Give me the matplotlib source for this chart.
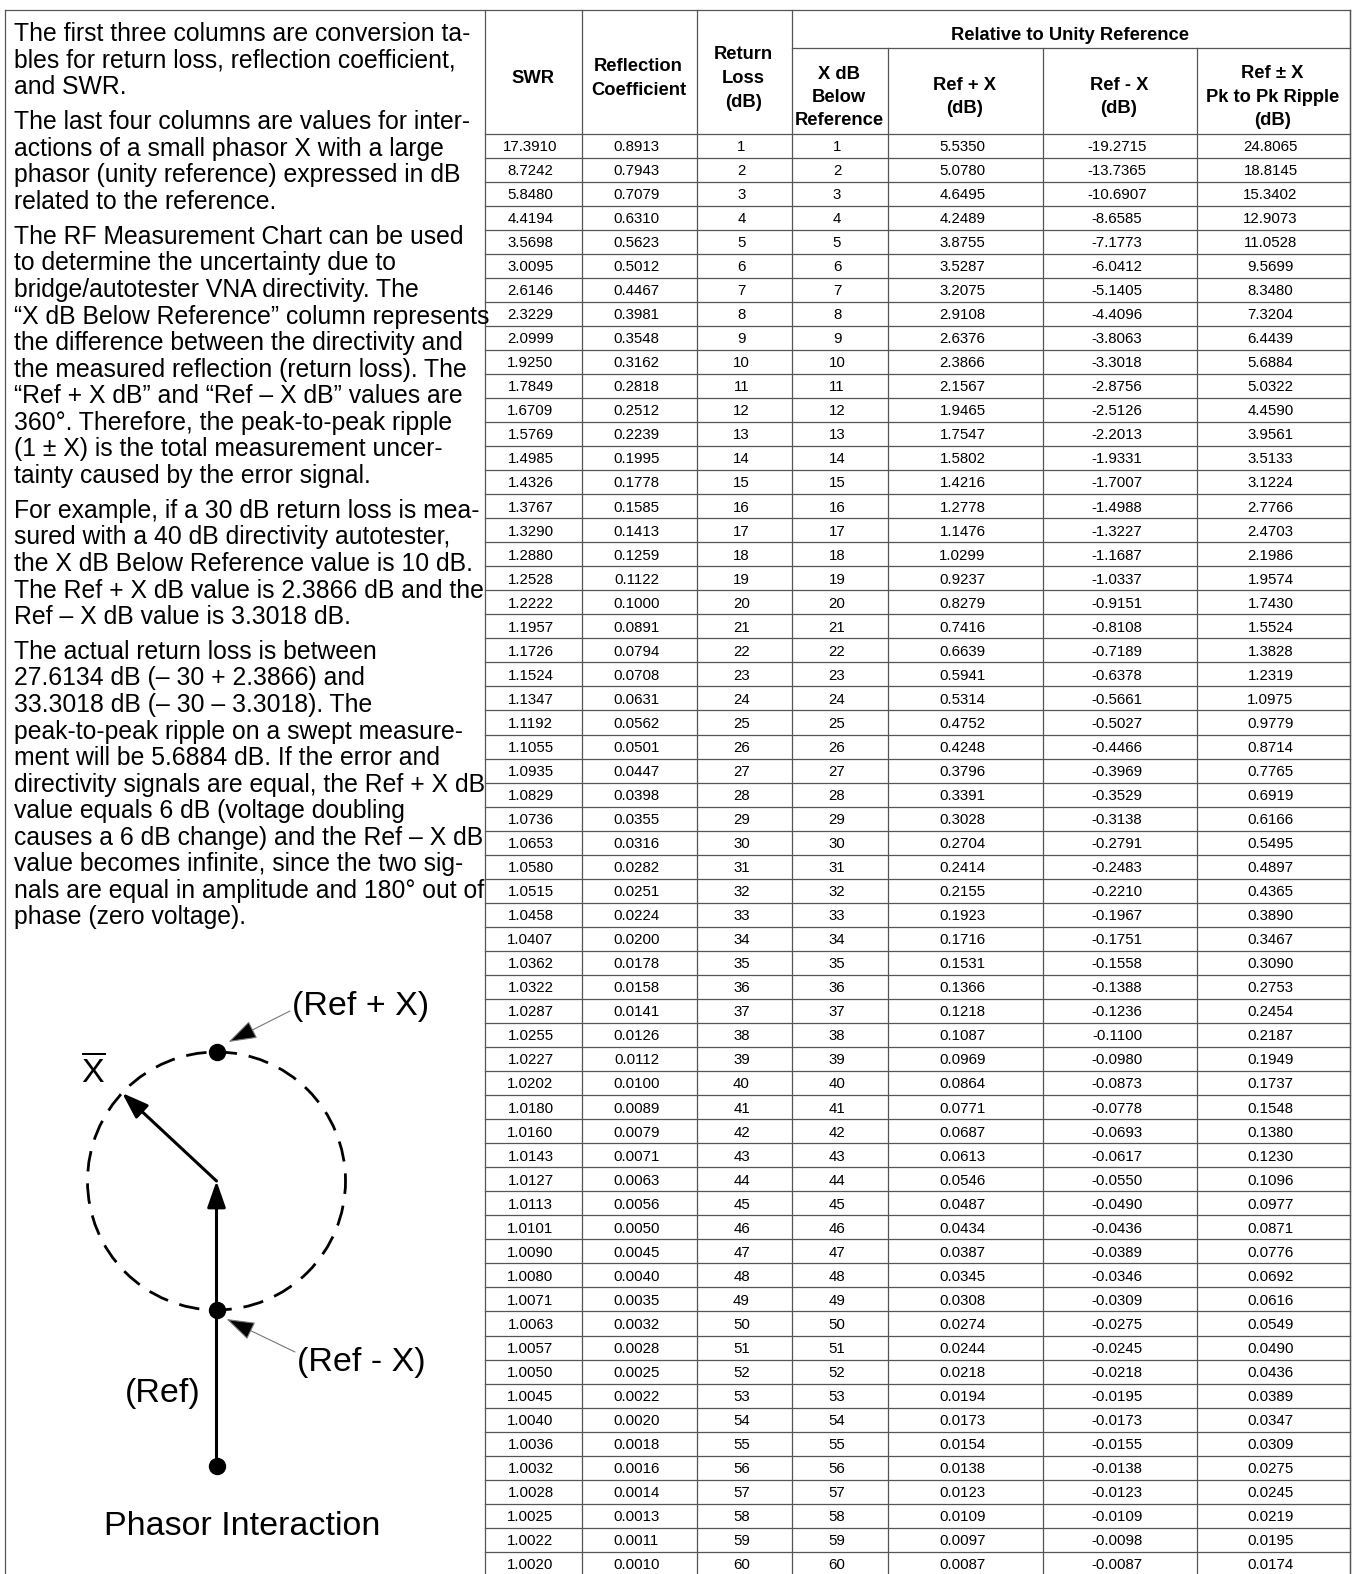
import numpy as np
import matplotlib
matplotlib.use("Agg")
import matplotlib.pyplot as plt
from matplotlib.patches import Circle

plt.rcParams['font.family'] = ['Liberation Sans', 'DejaVu Sans']
plt.rcParams['mathtext.fontset'] = 'custom'
plt.rcParams['mathtext.rm'] = 'Liberation Sans'

# ---- table data ----
swr = [17.3910, 8.7242, 5.8480, 4.4194, 3.5698, 3.0095, 2.6146, 2.3229, 2.0999, 1.9250,
       1.7849, 1.6709, 1.5769, 1.4985, 1.4326, 1.3767, 1.3290, 1.2880, 1.2528, 1.2222,
       1.1957, 1.1726, 1.1524, 1.1347, 1.1192, 1.1055, 1.0935, 1.0829, 1.0736, 1.0653,
       1.0580, 1.0515, 1.0458, 1.0407, 1.0362, 1.0322, 1.0287, 1.0255, 1.0227, 1.0202,
       1.0180, 1.0160, 1.0143, 1.0127, 1.0113, 1.0101, 1.0090, 1.0080, 1.0071, 1.0063,
       1.0057, 1.0050, 1.0045, 1.0040, 1.0036, 1.0032, 1.0028, 1.0025, 1.0022, 1.0020]
refl_coef = [0.8913, 0.7943, 0.7079, 0.6310, 0.5623, 0.5012, 0.4467, 0.3981, 0.3548, 0.3162,
             0.2818, 0.2512, 0.2239, 0.1995, 0.1778, 0.1585, 0.1413, 0.1259, 0.1122, 0.1000,
             0.0891, 0.0794, 0.0708, 0.0631, 0.0562, 0.0501, 0.0447, 0.0398, 0.0355, 0.0316,
             0.0282, 0.0251, 0.0224, 0.0200, 0.0178, 0.0158, 0.0141, 0.0126, 0.0112, 0.0100,
             0.0089, 0.0079, 0.0071, 0.0063, 0.0056, 0.0050, 0.0045, 0.0040, 0.0035, 0.0032,
             0.0028, 0.0025, 0.0022, 0.0020, 0.0018, 0.0016, 0.0014, 0.0013, 0.0011, 0.0010]
return_loss = [1, 2, 3, 4, 5, 6, 7, 8, 9, 10, 11, 12, 13, 14, 15, 16, 17, 18, 19, 20,
               21, 22, 23, 24, 25, 26, 27, 28, 29, 30, 31, 32, 33, 34, 35, 36, 37, 38, 39, 40,
               41, 42, 43, 44, 45, 46, 47, 48, 49, 50, 51, 52, 53, 54, 55, 56, 57, 58, 59, 60]
x_below = [1, 2, 3, 4, 5, 6, 7, 8, 9, 10, 11, 12, 13, 14, 15, 16, 17, 18, 19, 20,
           21, 22, 23, 24, 25, 26, 27, 28, 29, 30, 31, 32, 33, 34, 35, 36, 37, 38, 39, 40,
           41, 42, 43, 44, 45, 46, 47, 48, 49, 50, 51, 52, 53, 54, 55, 56, 57, 58, 59, 60]
ref_plus = [5.5350, 5.0780, 4.6495, 4.2489, 3.8755, 3.5287, 3.2075, 2.9108, 2.6376, 2.3866,
            2.1567, 1.9465, 1.7547, 1.5802, 1.4216, 1.2778, 1.1476, 1.0299, 0.9237, 0.8279,
            0.7416, 0.6639, 0.5941, 0.5314, 0.4752, 0.4248, 0.3796, 0.3391, 0.3028, 0.2704,
            0.2414, 0.2155, 0.1923, 0.1716, 0.1531, 0.1366, 0.1218, 0.1087, 0.0969, 0.0864,
            0.0771, 0.0687, 0.0613, 0.0546, 0.0487, 0.0434, 0.0387, 0.0345, 0.0308, 0.0274,
            0.0244, 0.0218, 0.0194, 0.0173, 0.0154, 0.0138, 0.0123, 0.0109, 0.0097, 0.0087]
ref_minus = [-19.2715, -13.7365, -10.6907, -8.6585, -7.1773, -6.0412, -5.1405, -4.4096, -3.8063, -3.3018,
             -2.8756, -2.5126, -2.2013, -1.9331, -1.7007, -1.4988, -1.3227, -1.1687, -1.0337, -0.9151,
             -0.8108, -0.7189, -0.6378, -0.5661, -0.5027, -0.4466, -0.3969, -0.3529, -0.3138, -0.2791,
             -0.2483, -0.2210, -0.1967, -0.1751, -0.1558, -0.1388, -0.1236, -0.1100, -0.0980, -0.0873,
             -0.0778, -0.0693, -0.0617, -0.0550, -0.0490, -0.0436, -0.0389, -0.0346, -0.0309, -0.0275,
             -0.0245, -0.0218, -0.0195, -0.0173, -0.0155, -0.0138, -0.0123, -0.0109, -0.0098, -0.0087]
ripple = [24.8065, 18.8145, 15.3402, 12.9073, 11.0528, 9.5699, 8.3480, 7.3204, 6.4439, 5.6884,
          5.0322, 4.4590, 3.9561, 3.5133, 3.1224, 2.7766, 2.4703, 2.1986, 1.9574, 1.7430,
          1.5524, 1.3828, 1.2319, 1.0975, 0.9779, 0.8714, 0.7765, 0.6919, 0.6166, 0.5495,
          0.4897, 0.4365, 0.3890, 0.3467, 0.3090, 0.2753, 0.2454, 0.2187, 0.1949, 0.1737,
          0.1548, 0.1380, 0.1230, 0.1096, 0.0977, 0.0871, 0.0776, 0.0692, 0.0616, 0.0549,
          0.0490, 0.0436, 0.0389, 0.0347, 0.0309, 0.0275, 0.0245, 0.0219, 0.0195, 0.0174]

headers = [["SWR"], ["Reflection", "Coefficient"], ["Return", "Loss", "(dB)"],
           ["X dB", "Below", "Reference"], ["Ref + X", "(dB)"], ["Ref - X", "(dB)"],
           ["Ref \u00b1 X", "Pk to Pk Ripple", "(dB)"]]
group_title = "Relative to Unity Reference"

paragraphs = [
    ["The first three columns are conversion ta-",
     "bles for return loss, reflection coefficient,",
     "and SWR."],
    ["The last four columns are values for inter-",
     "actions of a small phasor X with a large",
     "phasor (unity reference) expressed in dB",
     "related to the reference."],
    ["The RF Measurement Chart can be used",
     "to determine the uncertainty due to",
     "bridge/autotester VNA directivity. The",
     "\u201cX dB Below Reference\u201d column represents",
     "the difference between the directivity and",
     "the measured reflection (return loss). The",
     "\u201cRef + X dB\u201d and \u201cRef \u2013 X dB\u201d values are",
     "360\u00b0. Therefore, the peak-to-peak ripple",
     "(1 \u00b1 X) is the total measurement uncer-",
     "tainty caused by the error signal."],
    ["For example, if a 30 dB return loss is mea-",
     "sured with a 40 dB directivity autotester,",
     "the X dB Below Reference value is 10 dB.",
     "The Ref + X dB value is 2.3866 dB and the",
     "Ref \u2013 X dB value is 3.3018 dB."],
    ["The actual return loss is between",
     "27.6134 dB (\u2013 30 + 2.3866) and",
     "33.3018 dB (\u2013 30 \u2013 3.3018). The",
     "peak-to-peak ripple on a swept measure-",
     "ment will be 5.6884 dB. If the error and",
     "directivity signals are equal, the Ref + X dB",
     "value equals 6 dB (voltage doubling",
     "causes a 6 dB change) and the Ref \u2013 X dB",
     "value becomes infinite, since the two sig-",
     "nals are equal in amplitude and 180\u00b0 out of",
     "phase (zero voltage)."],
]

W, H = 1359, 1574
fig = plt.figure(figsize=(W / 100, H / 100), dpi=100)
ax = fig.add_axes([0, 0, 1, 1])
ax.set_xlim(0, W)
ax.set_ylim(H, 0)
ax.axis('off')


def label(x, yc, s, px, **kw):
    # place text so that its cap-height centre sits at yc (pixel units)
    ax.text(x, yc + 0.36 * px, s, va='baseline', fontsize=px * 0.72, **kw)


line_c = '#555555'
lw = 0.9

# outer frame
left, top, right = 5, 10, 1350
ax.plot([left, left], [top, H], color=line_c, lw=lw)
ax.plot([left, right], [top, top], color=line_c, lw=lw)
ax.plot([right, right], [top, H], color=line_c, lw=lw)

# ---- table ----
col_edges = [485, 582, 697, 792, 888, 1043, 1197, 1350]
hdr_mid, hdr_bot = 48, 133.5
row_h = 24.04
nrows = len(swr)

for j, x in enumerate(col_edges):
    y0 = hdr_mid if j in (4, 5, 6) else top
    ax.plot([x, x], [y0, H], color=line_c, lw=lw)
ax.plot([col_edges[3], col_edges[-1]], [hdr_mid, hdr_mid], color=line_c, lw=lw)
for i in range(nrows + 1):
    y = hdr_bot + row_h * i
    ax.plot([col_edges[0], col_edges[-1]], [y, y], color=line_c, lw=lw)

centers = [(a + b) / 2 for a, b in zip(col_edges[:-1], col_edges[1:])]
hdr_px = 18.4
label((col_edges[3] + col_edges[-1]) / 2 - 1, 33, group_title, hdr_px, ha='center',
      fontweight='bold')
hdr_pos = [[76], [64, 88], [52, 76, 100], [72, 95, 118], [83, 106], [83, 106], [71, 95, 118]]
for c, lines in enumerate(headers):
    for txt, y in zip(lines, hdr_pos[c]):
        label(centers[c] - 1, y, txt, hdr_px, ha='center', fontweight='bold')

cols = [[f"{v:.4f}" for v in swr], [f"{v:.4f}" for v in refl_coef],
        [str(v) for v in return_loss], [str(v) for v in x_below],
        [f"{v:.4f}" for v in ref_plus], [f"{v:.4f}" for v in ref_minus],
        [f"{v:.4f}" for v in ripple]]
for c, vals in enumerate(cols):
    for i, s in enumerate(vals):
        label(centers[c] - 3, hdr_bot + row_h * (i + 0.5), s, 15.0, ha='center')

# ---- explanatory text ----
fs_px = 24.7
pitch = 26.55
para_start = [32, 120.5, 235, 509, 650]
for start, lines in zip(para_start, paragraphs):
    for k, line in enumerate(lines):
        label(14, start + k * pitch, line, fs_px, ha='left')

# ---- phasor diagram ----
cx, cy, r = 216.5, 1181, 129
ref_base = 1466
x_angle = np.deg2rad(137)
big = 34

ax.add_patch(Circle((cx, cy), r, fill=False, ec='k', lw=2.0,
                    linestyle=(0, (7.4, 4.3))))
head = '-|>,head_length=0.8,head_width=0.28'
# reference phasor
ax.annotate('', xy=(cx, cy), xytext=(cx, ref_base),
            arrowprops=dict(arrowstyle=head, lw=2.2, color='k', mutation_scale=20,
                            shrinkA=0, shrinkB=0))
# small phasor X
tip = (cx + r * np.cos(x_angle), cy - r * np.sin(x_angle))
ax.annotate('', xy=tip, xytext=(cx, cy),
            arrowprops=dict(arrowstyle=head, lw=2.2, color='k', mutation_scale=20,
                            shrinkA=0, shrinkB=0))
ax.plot([cx, cx, cx], [cy - r, cy + r, ref_base], 'o', color='k', ms=11.5)

ax.text(93, 1072, r'$\overline{\mathrm{X}}$', ha='center', va='center', fontsize=big * 0.72)
label(292, 1003, "(Ref + X)", big, ha='left')
label(297, 1359, "(Ref - X)", big, ha='left')
label(162.5, 1390, "(Ref)", big, ha='center')
label(242, 1523, "Phasor Interaction", big, ha='center')

thin = dict(arrowstyle='-|>,head_length=0.9,head_width=0.3', lw=0.8, ec='#777777',
            fc='k', mutation_scale=20, shrinkA=0, shrinkB=0)
ax.annotate('', xy=(cx + 12, cy - r - 10), xytext=(290, 1011), arrowprops=thin)
ax.annotate('', xy=(cx + 10, cy + r + 9), xytext=(295, 1352), arrowprops=thin)

fig.savefig('out.png', dpi=100)
